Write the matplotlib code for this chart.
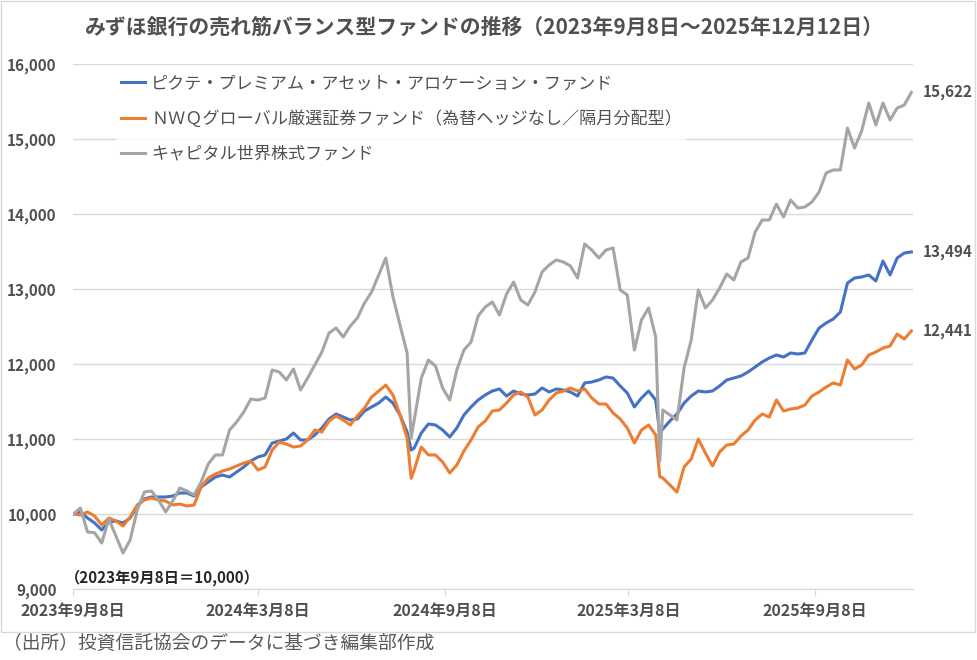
import matplotlib
matplotlib.use('Agg')
import matplotlib.pyplot as plt
from matplotlib.patches import Rectangle
import pandas as pd

plt.rcParams['font.family'] = ['Noto Sans CJK JP', 'DejaVu Sans']

# weekly values (Fridays), 2023-09-08 = 10,000
weeks = pd.date_range('2023-09-08', '2025-12-12', freq='7D')
# extra points for the two sharp dips between weekly samples
extra_dates = pd.to_datetime(['2024-08-06', '2025-04-08'])

names = ['ピクテ・プレミアム・アセット・アロケーション・ファンド',
         'ＮＷＱグローバル厳選証券ファンド（為替ヘッジなし／隔月分配型）',
         'キャピタル世界株式ファンド']
colors = ['#4472C4', '#ED7D31', '#A5A5A5']

blue_w = [10000, 10027, 9947, 9880, 9787, 9893, 9907, 9880, 9947, 10107,
          10200, 10227, 10227, 10227, 10240, 10280, 10280, 10240, 10360, 10427,
          10493, 10520, 10493, 10560, 10627, 10707, 10760, 10787, 10947, 10973,
          11000, 11080, 10987, 10987, 11053, 11147, 11267, 11333, 11293, 11253,
          11267, 11373, 11427, 11480, 11560, 11480, 11320, 11093, 10880, 11080,
          11200, 11187, 11120, 11027, 11147, 11320, 11427, 11520, 11587, 11640,
          11667, 11573, 11640, 11600, 11587, 11600, 11680, 11627, 11667, 11653,
          11627, 11573, 11747, 11760, 11787, 11827, 11813, 11707, 11613, 11427,
          11547, 11640, 11520, 11133, 11240, 11333, 11480, 11573, 11640, 11627,
          11640, 11707, 11787, 11813, 11840, 11893, 11960, 12027, 12080, 12120,
          12093, 12147, 12133, 12147, 12320, 12480, 12547, 12600, 12693, 13080,
          13147, 13160, 13187, 13107, 13373, 13187, 13413, 13480, 13494]
blue_x = [10853, 11080]

orange_w = [10000, 9987, 10027, 9973, 9853, 9947, 9907, 9840, 9960, 10120,
            10187, 10213, 10187, 10173, 10120, 10133, 10107, 10120, 10360, 10480,
            10533, 10573, 10600, 10640, 10680, 10707, 10587, 10627, 10853, 10960,
            10933, 10893, 10907, 10987, 11120, 11093, 11240, 11307, 11253, 11187,
            11307, 11413, 11560, 11640, 11720, 11587, 11320, 11013, 10587, 10893,
            10787, 10787, 10693, 10547, 10653, 10840, 10987, 11160, 11240, 11373,
            11387, 11480, 11587, 11627, 11560, 11320, 11387, 11520, 11613, 11640,
            11680, 11640, 11667, 11547, 11467, 11467, 11347, 11267, 11147, 10947,
            11120, 11187, 11053, 10480, 10387, 10293, 10627, 10733, 11000, 10813,
            10640, 10827, 10920, 10933, 11040, 11120, 11253, 11333, 11293, 11520,
            11373, 11400, 11413, 11453, 11573, 11627, 11693, 11747, 11720, 12053,
            11933, 11987, 12120, 12160, 12213, 12240, 12400, 12333, 12441]
orange_x = [10476, 10500]

gray_w = [10000, 10080, 9760, 9750, 9613, 9933, 9707, 9480, 9653, 10053,
          10293, 10307, 10187, 10027, 10173, 10347, 10307, 10253, 10427, 10667,
          10787, 10787, 11120, 11227, 11360, 11533, 11520, 11547, 11920, 11893,
          11787, 11933, 11653, 11813, 11987, 12160, 12413, 12480, 12360, 12507,
          12613, 12813, 12960, 13187, 13413, 12900, 12520, 12147, 11253, 11813,
          12053, 11973, 11680, 11520, 11920, 12187, 12293, 12640, 12760, 12827,
          12653, 12933, 13093, 12853, 12787, 12960, 13227, 13320, 13387, 13360,
          13307, 13147, 13600, 13520, 13413, 13520, 13547, 12987, 12920, 12187,
          12587, 12747, 12360, 11387, 11320, 11253, 11947, 12320, 12987, 12747,
          12853, 13013, 13200, 13120, 13360, 13413, 13760, 13920, 13920, 14133,
          13960, 14187, 14080, 14093, 14160, 14293, 14547, 14587, 14587, 15147,
          14880, 15107, 15480, 15187, 15480, 15253, 15413, 15453, 15622]
gray_x = [11013, 10707]

tick_dates = ['2023-09-08', '2024-03-08', '2024-09-08', '2025-03-08', '2025-09-08']
y_ticks = [9000, 10000, 11000, 12000, 13000, 14000, 15000, 16000]


def series(weekly, extra):
    s = pd.concat([pd.Series(weekly, index=weeks), pd.Series(extra, index=extra_dates)])
    return s.sort_index()


data = [series(blue_w, blue_x), series(orange_w, orange_x), series(gray_w, gray_x)]

txt = '#505050'
fig = plt.figure(figsize=(9.77, 6.6), dpi=100)
ax = fig.add_axes([73.3 / 977, 1 - 589 / 660, (913 - 73.3) / 977, (589 - 64) / 660])

for s, c, n in zip(data, colors, names):
    ax.plot(s.index, s.values, color=c, lw=2.2, label=n)
    ax.annotate(f'{s.values[-1]:,.0f}', (s.index[-1], s.values[-1]),
                xytext=(11, 0), textcoords='offset pixels', va='center',
                fontsize=11, fontweight='bold', color=txt)

start = pd.Timestamp('2023-09-08')
ax.set_xlim(start, start + pd.Timedelta(days=827.6))
ax.set_ylim(9000, 16000)
ax.set_yticks(y_ticks)
ax.set_yticklabels([f'{v:,}' for v in y_ticks], fontsize=11, fontweight='bold', color=txt)
td = pd.to_datetime(tick_dates)
ax.set_xticks(td)
ax.set_xticklabels([f'{d.year}年{d.month}月{d.day}日' for d in td],
                   fontsize=11.5, fontweight='bold', color=txt)
ax.tick_params(axis='y', length=0, pad=12)
ax.tick_params(axis='x', length=5, color='#d9d9d9', pad=5)
ax.yaxis.grid(True, color='#d9d9d9', lw=1)
ax.set_axisbelow(True)
for sp in ['top', 'left', 'right']:
    ax.spines[sp].set_visible(False)
ax.spines['bottom'].set_color('#d9d9d9')

leg = ax.legend(loc='upper left', bbox_to_anchor=(0.041, 1.0046), frameon=True,
                fontsize=12.3, handlelength=1.45, handletextpad=0.35,
                labelspacing=1.0, borderpad=0.25, fancybox=False)
leg.get_frame().set_edgecolor('none')
leg.get_frame().set_facecolor('white')
for t in leg.get_texts():
    t.set_color(txt)

fig.text(484.5 / 977, 1 - 27 / 660,
         'みずほ銀行の売れ筋バランス型ファンドの推移（2023年9月8日～2025年12月12日）',
         ha='center', va='center', fontsize=15, fontweight='bold', color=txt)
fig.text(65 / 977, 1 - 578 / 660, '（2023年9月8日＝10,000）', ha='left', va='center',
         fontsize=11, fontweight='bold', color='#262626')
fig.text(3 / 977, 1 - 643 / 660, '（出所）投資信託協会のデータに基づき編集部作成',
         ha='left', va='center', fontsize=13.5, color='#595959')
fig.add_artist(Rectangle((1 / 977, 1 - 632 / 660), 974 / 977, 631 / 660,
                         transform=fig.transFigure, fill=False, ec='#d9d9d9', lw=1))

fig.savefig('out.png', dpi=100)
